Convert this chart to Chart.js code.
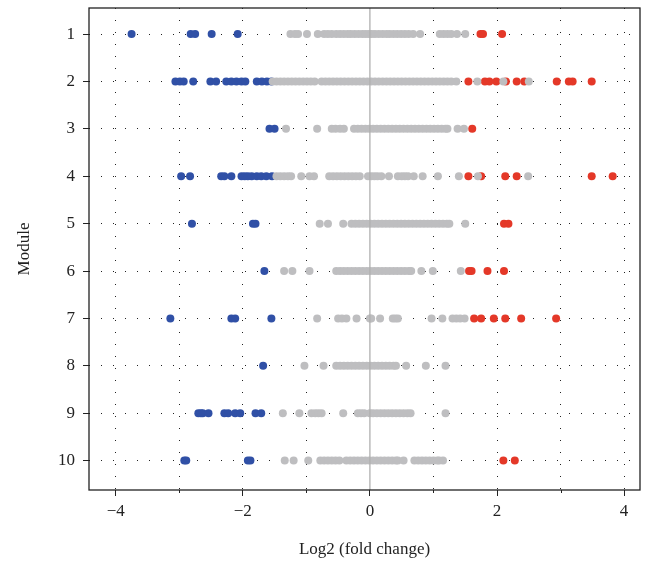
<!DOCTYPE html>
<html>
<head>
<meta charset="utf-8">
<script src="https://cdn.jsdelivr.net/npm/chart.js@4"></script>
<style>
  html, body { margin: 0; padding: 0; background: #fff; }
  #wrap { width: 653px; height: 571px; }
</style>
</head>
<body>
<div id="wrap"><canvas id="chart" width="653" height="571"></canvas></div>
<script>
// modules shown on the y axis, top to bottom
const modules = [1, 2, 3, 4, 5, 6, 7, 8, 9, 10];
const xTicks = [-4, -3, -2, -1, 0, 1, 2, 3, 4];

// log2 fold change per module: not significant (grey)
const greyValues = [
  [-1.25,-1.18,-1.13,-0.99,-0.82,-0.72,-0.66,-0.6,-0.53,-0.47,-0.41,-0.35,-0.3,-0.24,-0.18,-0.12,-0.07,-0.02,0.03,0.08,0.14,0.2,0.26,0.31,0.37,0.43,0.49,0.55,0.61,0.68,0.79,1.1,1.16,1.22,1.28,1.37,1.5],
  [-1.53,-1.47,-1.41,-1.35,-1.29,-1.23,-1.17,-1.11,-1.05,-0.99,-0.93,-0.87,-0.76,-0.7,-0.64,-0.58,-0.52,-0.46,-0.4,-0.34,-0.28,-0.22,-0.16,-0.1,-0.04,0.02,0.08,0.14,0.2,0.26,0.32,0.38,0.44,0.5,0.56,0.62,0.68,0.74,0.8,0.86,0.92,0.98,1.04,1.1,1.16,1.22,1.28,1.36,1.69,2.1,2.5],
  [-1.32,-0.83,-0.6,-0.54,-0.47,-0.41,-0.25,-0.19,-0.13,-0.07,-0.01,0.05,0.11,0.17,0.23,0.29,0.35,0.41,0.47,0.53,0.59,0.65,0.71,0.77,0.83,0.89,0.95,1.01,1.07,1.13,1.19,1.22,1.38,1.48],
  [-1.47,-1.41,-1.35,-1.29,-1.24,-1.08,-0.95,-0.88,-0.64,-0.58,-0.52,-0.46,-0.4,-0.34,-0.28,-0.22,-0.16,-0.03,0.02,0.07,0.12,0.18,0.3,0.44,0.5,0.55,0.6,0.69,0.83,1.07,1.4,1.7,2.49],
  [-0.79,-0.66,-0.42,-0.29,-0.23,-0.17,-0.11,-0.05,0.01,0.07,0.13,0.19,0.25,0.31,0.37,0.43,0.49,0.55,0.61,0.67,0.73,0.79,0.85,0.91,0.97,1.03,1.09,1.15,1.21,1.25,1.5],
  [-1.35,-1.22,-0.95,-0.53,-0.47,-0.41,-0.35,-0.29,-0.23,-0.17,-0.11,-0.05,0.01,0.07,0.13,0.19,0.25,0.31,0.37,0.43,0.49,0.55,0.61,0.65,0.81,0.99,1.43],
  [-0.83,-0.5,-0.44,-0.37,-0.21,0.0,0.02,0.16,0.36,0.4,0.44,0.97,1.14,1.3,1.36,1.42,1.49],
  [-1.03,-0.73,-0.53,-0.47,-0.41,-0.35,-0.29,-0.23,-0.17,-0.11,-0.05,0.01,0.07,0.13,0.19,0.25,0.31,0.37,0.41,0.57,0.88,1.19],
  [-1.37,-1.11,-0.92,-0.86,-0.81,-0.76,-0.42,-0.19,-0.14,-0.09,0.0,0.05,0.11,0.17,0.23,0.29,0.35,0.41,0.47,0.53,0.59,0.64,1.19],
  [-1.34,-1.2,-0.97,-0.78,-0.72,-0.66,-0.6,-0.54,-0.48,-0.37,-0.31,-0.25,-0.19,-0.13,-0.07,-0.01,0.05,0.11,0.17,0.23,0.29,0.35,0.41,0.44,0.53,0.7,0.76,0.82,0.88,0.94,1.0,1.06,1.09,1.15]
];

// down-regulated (blue)
const blueValues = [
  [-3.75,-2.82,-2.75,-2.49,-2.08],
  [-3.06,-2.99,-2.93,-2.78,-2.51,-2.42,-2.26,-2.18,-2.1,-2.02,-1.96,-1.78,-1.7,-1.62,-1.55],
  [-1.58,-1.5],
  [-2.97,-2.83,-2.34,-2.29,-2.18,-2.02,-1.97,-1.92,-1.86,-1.78,-1.71,-1.63,-1.54],
  [-2.8,-1.84,-1.8],
  [-1.66],
  [-3.14,-2.18,-2.12,-1.55],
  [-1.68],
  [-2.7,-2.66,-2.63,-2.54,-2.29,-2.23,-2.12,-2.04,-1.8,-1.71],
  [-2.92,-2.89,-1.92,-1.88]
];

// up-regulated (red)
const redValues = [
  [1.74,1.78,2.08],
  [1.55,1.81,1.88,1.99,2.14,2.31,2.43,2.94,3.13,3.19,3.49],
  [1.61],
  [1.55,1.75,2.13,2.31,3.49,3.82],
  [2.11,2.18],
  [1.56,1.6,1.85,2.11],
  [1.64,1.75,1.95,2.13,2.38,2.93],
  [],
  [],
  [2.1,2.28]
];

function toPoints(values) {
  const pts = [];
  values.forEach((row, i) => {
    row.forEach(v => pts.push({ x: v, y: modules[i] }));
  });
  return pts;
}

const serif = '"Liberation Serif", "DejaVu Serif", serif';

// frame, zero line and minor ticks
const framePlugin = {
  id: 'frame',
  afterDatasetsDraw(chart) {
    const ctx = chart.ctx;
    const a = chart.chartArea;
    const xs = chart.scales.x;
    ctx.save();
    const x0 = xs.getPixelForValue(0);
    ctx.strokeStyle = 'rgb(175,175,175)';
    ctx.lineWidth = 1.3;
    ctx.beginPath();
    ctx.moveTo(x0, a.top);
    ctx.lineTo(x0, a.bottom);
    ctx.stroke();

    ctx.strokeStyle = '#222';
    ctx.lineWidth = 1.3;
    ctx.strokeRect(a.left, a.top, a.right - a.left, a.bottom - a.top);

    ctx.lineWidth = 1;
    [-3, -1, 1, 3].forEach(v => {
      const px = Math.round(xs.getPixelForValue(v)) + 0.5;
      ctx.beginPath();
      ctx.moveTo(px, a.bottom);
      ctx.lineTo(px, a.bottom + 3);
      ctx.stroke();
    });
    ctx.restore();
  }
};

new Chart(document.getElementById('chart').getContext('2d'), {
  type: 'scatter',
  data: {
    datasets: [
      { label: 'grey', data: toPoints(greyValues), backgroundColor: 'rgb(190,190,192)', pointRadius: 4, borderWidth: 0, pointHoverRadius: 4 },
      { label: 'down', data: toPoints(blueValues), backgroundColor: 'rgb(48,80,166)', pointRadius: 4, borderWidth: 0, pointHoverRadius: 4 },
      { label: 'up', data: toPoints(redValues), backgroundColor: 'rgb(228,56,40)', pointRadius: 4, borderWidth: 0, pointHoverRadius: 4 }
    ]
  },
  options: {
    responsive: false,
    animation: false,
    layout: { padding: { top: 8, right: 13, left: 0, bottom: 0 } },
    plugins: { legend: { display: false }, tooltip: { enabled: false } },
    scales: {
      x: {
        type: 'linear',
        min: -4.42,
        max: 4.25,
        afterBuildTicks: s => { s.ticks = xTicks.map(v => ({ value: v })); },
        afterFit: s => { s.height = 81; s.paddingLeft = 0; s.paddingRight = 0; },
        ticks: {
          autoSkip: false,
          maxRotation: 0,
          padding: 5,
          color: '#222',
          font: { family: serif, size: 17 },
          callback: v => (v % 2 === 0 ? String(v).replace('-', '\u2212') : '')
        },
        grid: {
          color: c => (c.tick && c.tick.value === 0 ? 'transparent' : '#222'),
          lineWidth: 1,
          tickLength: 6,
          tickColor: c => (c.tick && c.tick.value % 2 !== 0 ? 'transparent' : '#222'),
          tickBorderDash: []
        },
        border: { display: false, dash: [1, 11] },
        title: {
          display: true,
          text: 'Log2 (fold change)',
          color: '#222',
          font: { family: serif, size: 17 },
          padding: { top: 0, bottom: 11 }
        }
      },
      y: {
        type: 'linear',
        reverse: true,
        min: 0.45,
        max: 10.62,
        afterBuildTicks: s => { s.ticks = modules.map(v => ({ value: v })); },
        afterFit: s => { s.width = 89; s.paddingTop = 0; s.paddingBottom = 0; },
        ticks: {
          autoSkip: false,
          padding: 8,
          color: '#222',
          font: { family: serif, size: 17 }
        },
        grid: {
          color: '#222',
          lineWidth: 1,
          tickLength: 6,
          tickColor: '#222',
          tickBorderDash: []
        },
        border: { display: false, dash: [1, 11] },
        title: {
          display: true,
          text: 'Module',
          color: '#222',
          font: { family: serif, size: 17 },
          padding: { top: 14, bottom: 0 }
        }
      }
    }
  },
  plugins: [framePlugin]
});
</script>
</body>
</html>
